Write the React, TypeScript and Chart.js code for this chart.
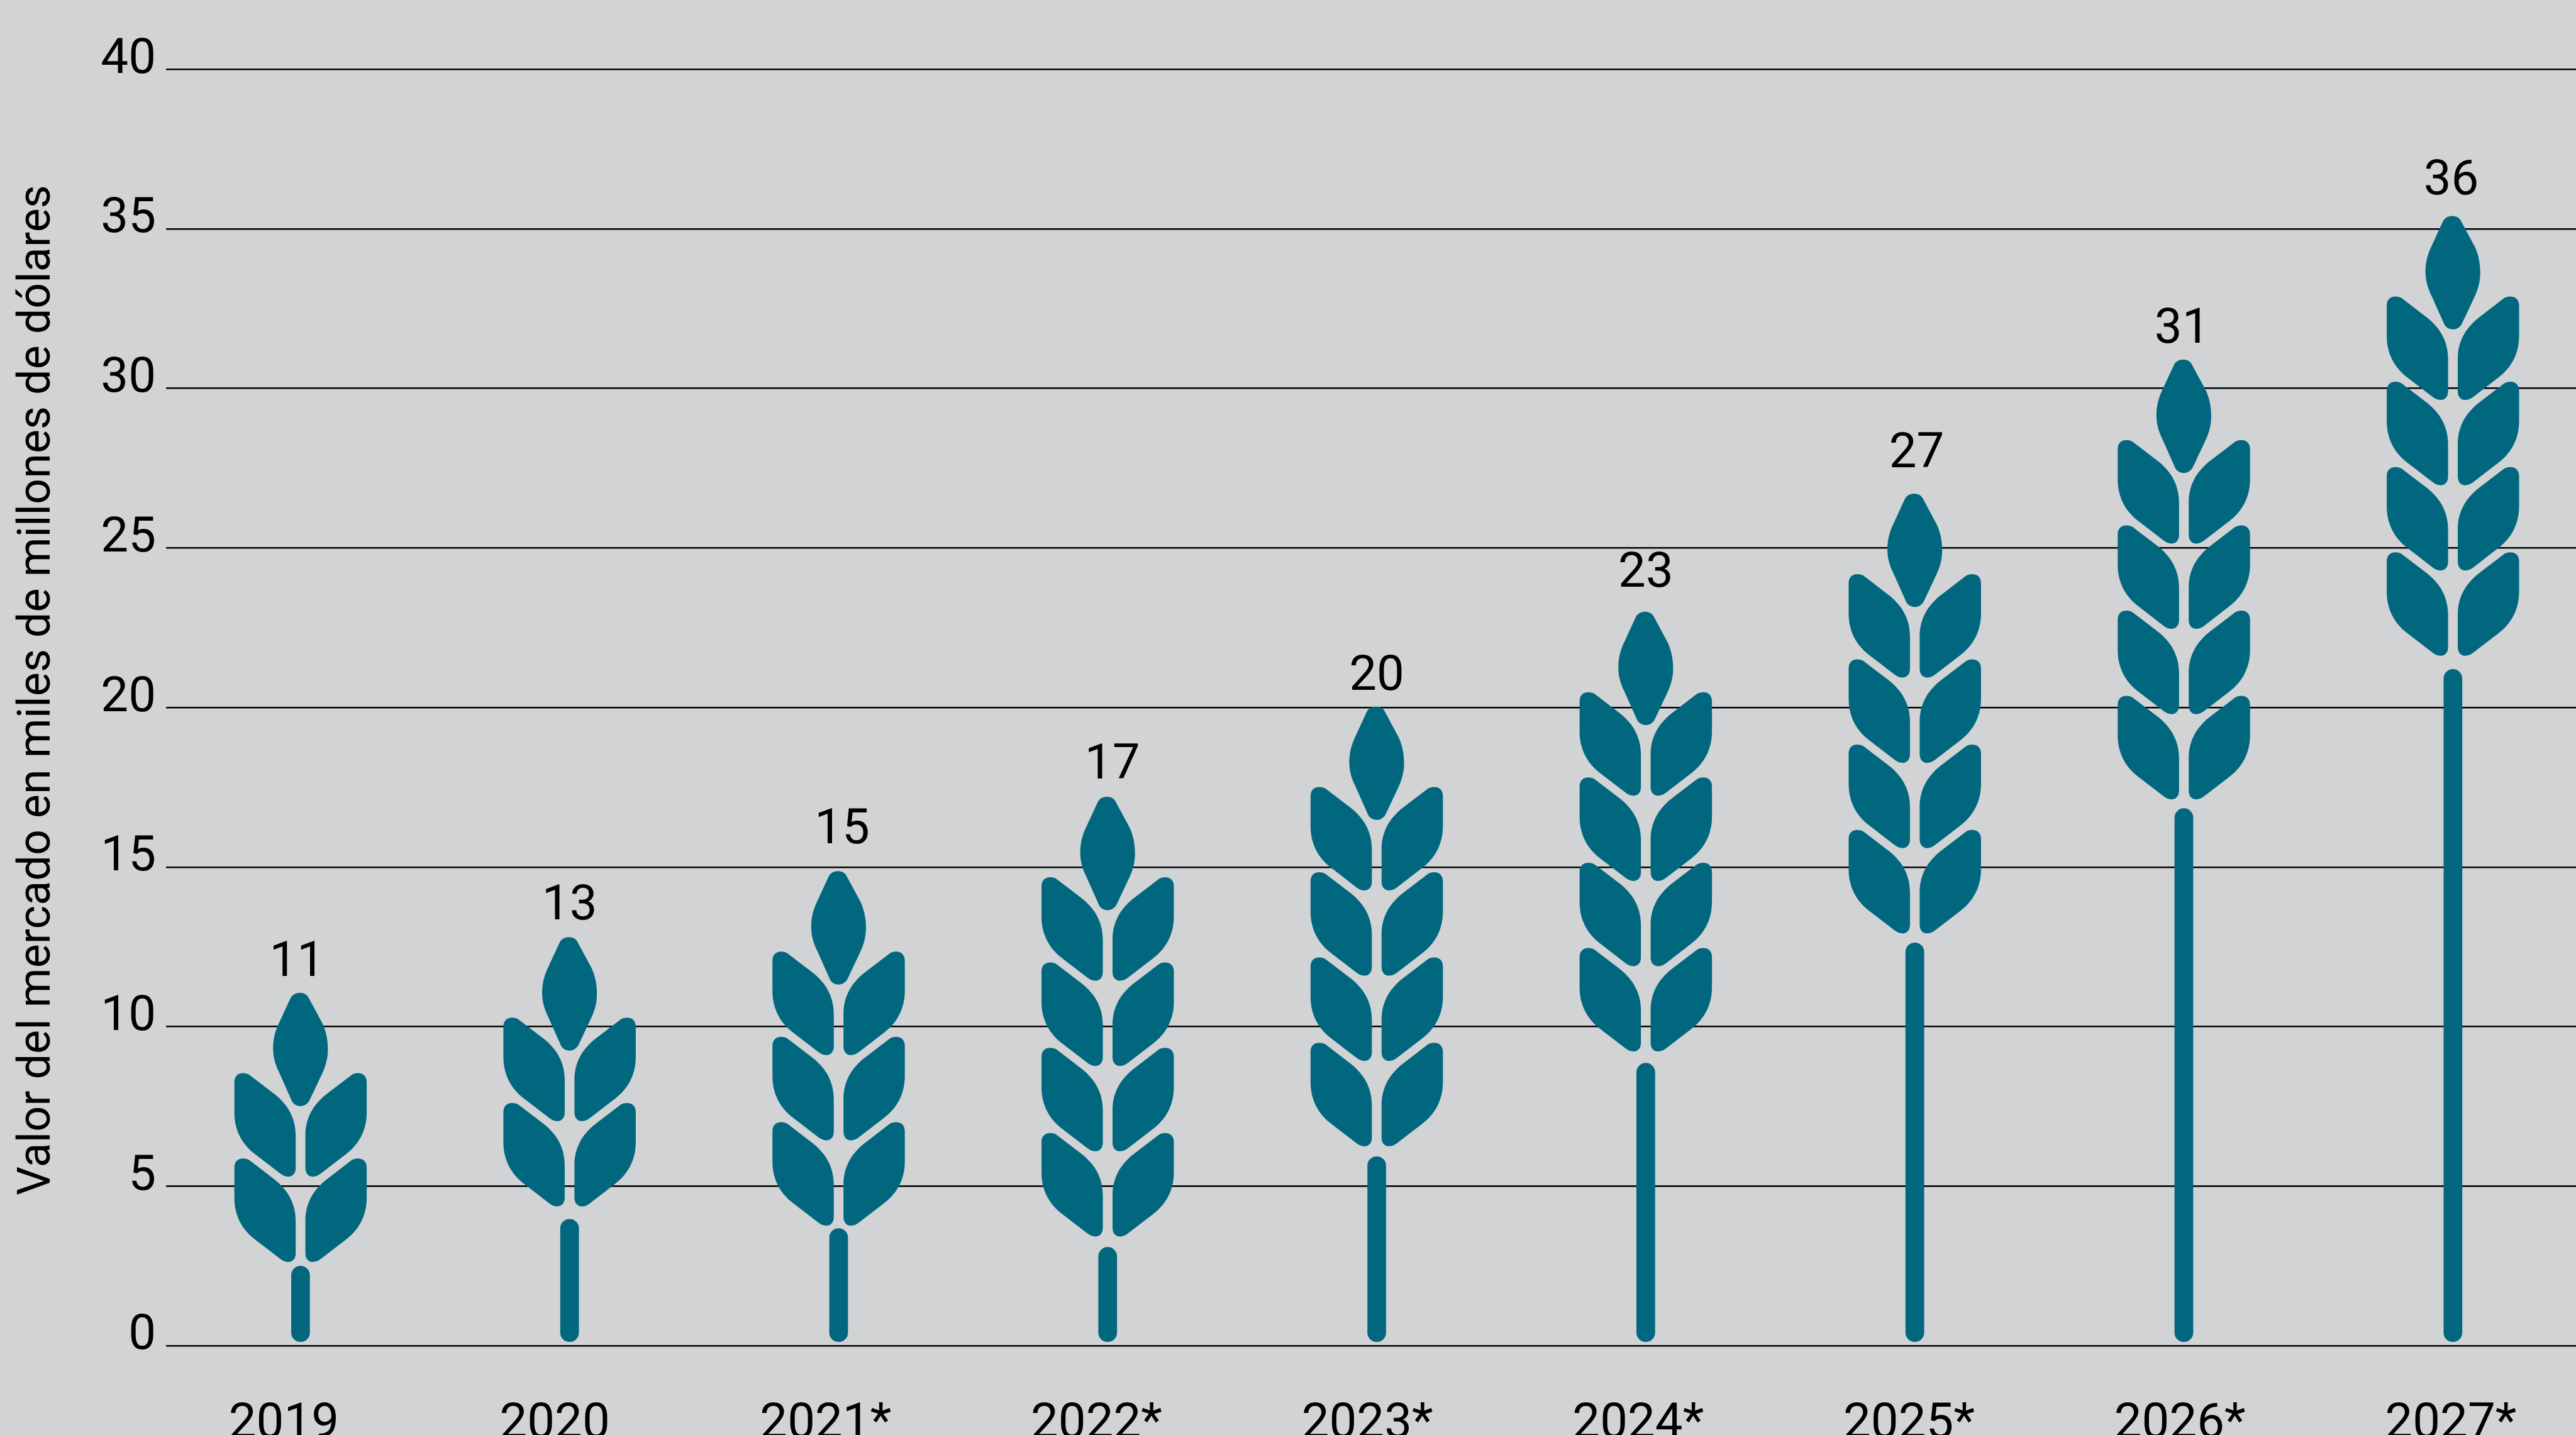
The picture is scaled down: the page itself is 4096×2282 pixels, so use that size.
import React, { useEffect, useRef } from "react";
import { Chart, BarController, BarElement, LinearScale } from "chart.js";

const categories = ["2019", "2020", "2021*", "2022*", "2023*", "2024*", "2025*", "2026*", "2027*"];
const valueLabels = ["11", "13", "15", "17", "20", "23", "27", "31", "36"];
const wheatHeights = [11.06, 12.8, 14.87, 17.2, 20.03, 23, 26.7, 30.9, 35.4];
const stemTops = [2.5, 3.97, 3.68, 3.09, 5.93, 8.86, 12.63, 16.84, 21.2];
const leafPairs = [2, 2, 3, 4, 4, 4, 4, 4, 4];
const yTicks = [0, 5, 10, 15, 20, 25, 30, 35, 40];
const yAxisTitle = "Valor del mercado en miles de millones de dólares";

const W = 4096;
const H = 2282;
const S = W / 4410;
const FONT = "Roboto";
const TEAL = "#01677f";
const BG = "#d2d3d5";

const labelNudgeX = [-6, 0, 6, 8, 0, 0, 3, -3, -3];
const labelNudgeY = [8, 6, -11, 6, 8, -6, -8, 8, 0];

const KERNEL =
  "M -17 9 C -11 -3 9 -3 14 9 L 37.7 53 C 43.5 66 46.8 80 46.8 97 C 46.8 112 43.5 124 37.7 137 L 16 183 C 10 197.5 -9 197.5 -15 185 L -37.3 135 C -43.5 122 -47 110 -47 95 C -47 80 -43.5 66 -37.3 53 Z";
const LEAF =
  "M 87.7 3.3 C 96 -1.8 113.3 -1.5 113.3 16 L 113.3 67.7 C 113.3 99.3 99.3 122.7 77.7 139.3 L 34.3 172.7 C 22 182 8.3 178 8.3 162.7 L 8.3 107.7 C 8.3 74.3 24.3 51 49.3 32.7 Z";
const KERNEL_TO_LEAF = 137.3;
const LEAF_PITCH = 146;
const STEM_W = 32;

class WheatController extends BarController {
  static id = "wheatBar";
  draw() {
    const self = this as any;
    const ctx: CanvasRenderingContext2D = self._ctx;
    const meta = self._cachedMeta;
    const yScale = meta.vScale;
    meta.data.forEach((el: any, i: number) => {
      const { x, y, base, options } = el;
      ctx.save();
      ctx.fillStyle = options.backgroundColor;
      const stemY = yScale.getPixelForValue(stemTops[i]);
      const stemBottom = base - 5 * S;
      ctx.beginPath();
      ctx.roundRect(x - (STEM_W / 2) * S, stemY, STEM_W * S, stemBottom - stemY, (STEM_W / 2) * S);
      ctx.fill();

      ctx.translate(x, y);
      ctx.scale(S, S);
      ctx.fill(new Path2D(KERNEL));
      const leaf = new Path2D(LEAF);
      for (let p = 0; p < leafPairs[i]; p++) {
        ctx.save();
        ctx.translate(0, KERNEL_TO_LEAF + p * LEAF_PITCH);
        ctx.fill(leaf);
        ctx.scale(-1, 1);
        ctx.fill(leaf);
        ctx.restore();
      }
      ctx.restore();
    });
  }
}

Chart.register(BarController, BarElement, LinearScale, WheatController);

const textPlugin = {
  id: "wheatText",
  afterDatasetsDraw(chart: any) {
    const { ctx } = chart;
    const meta = chart.getDatasetMeta(0);
    ctx.save();
    ctx.fillStyle = "#000";
    ctx.font = `${84 * S}px ${FONT}`;
    ctx.textAlign = "center";
    ctx.textBaseline = "alphabetic";
    meta.data.forEach((el: any, i: number) => {
      ctx.fillText(valueLabels[i], el.x + labelNudgeX[i] * S, el.y + (labelNudgeY[i] - 37) * S);
    });
    ctx.translate(85 * S, 1181.5 * S);
    ctx.rotate(-Math.PI / 2);
    ctx.font = `${77.5 * S}px ${FONT}`;
    ctx.fillText(yAxisTitle, 0, 0);
    ctx.restore();
  },
};

export default function App() {
  const ref = useRef<HTMLCanvasElement>(null);
  useEffect(() => {
    document.body.style.margin = "0";
    document.body.style.background = BG;
    const chart = new Chart(ref.current as HTMLCanvasElement, {
      type: "wheatBar" as any,
      data: {
        datasets: [
          {
            data: wheatHeights.map((v, i) => ({ x: i, y: v })),
            backgroundColor: TEAL,
            barThickness: 226 * S,
            xAxisID: "x",
            yAxisID: "y",
          },
        ],
      },
      options: {
        animation: false,
        responsive: false,
        maintainAspectRatio: false,
        layout: { padding: { top: 118.5 * S, left: 0, right: 0, bottom: 0 } },
        plugins: { legend: { display: false }, tooltip: { enabled: false } } as any,
        scales: {
          x: {
            type: "linear",
            display: false,
            offset: false,
            min: (284 - 514.5) / 460.6,
            max: (4410 - 514.5) / 460.6,
            grid: { display: false, offset: false },
          },
          xLabels: {
            type: "linear",
            position: "bottom",
            offset: false,
            min: (284 - 486) / 463.7,
            max: (4410 - 486) / 463.7,
            grid: { display: false, drawTicks: false, offset: false },
            border: { display: false },
            afterBuildTicks: (s: any) => {
              s.ticks = categories.map((_, i) => ({ value: i }));
            },
            afterFit: (s: any) => {
              s.height = (2457 - 2304) * S;
            },
            ticks: {
              autoSkip: false,
              maxRotation: 0,
              minRotation: 0,
              padding: 86 * S,
              color: "#000",
              font: { family: FONT, size: 84 * S },
              callback: (v: any) => categories[v],
            },
          },
          y: {
            type: "linear",
            position: "left",
            min: 0,
            max: 40,
            grid: { color: "#000", lineWidth: 2.4, drawTicks: false },
            border: { display: false },
            afterBuildTicks: (s: any) => {
              s.ticks = yTicks.map((v) => ({ value: v }));
            },
            afterFit: (s: any) => {
              s.width = 284 * S;
            },
            ticks: {
              autoSkip: false,
              padding: 17 * S,
              color: "#000",
              font: { family: FONT, size: 84 * S, lineHeight: 30 / 84 },
              callback: (v: any) => [String(v), ""],
            },
          },
        },
      } as any,
      plugins: [textPlugin],
    } as any);
    return () => chart.destroy();
  }, []);
  return (
    <div style={{ position: "fixed", left: 0, top: 0, width: W, height: H, background: BG, overflow: "hidden" }}>
      <canvas ref={ref} width={W} height={H} style={{ display: "block" }} />
    </div>
  );
}
